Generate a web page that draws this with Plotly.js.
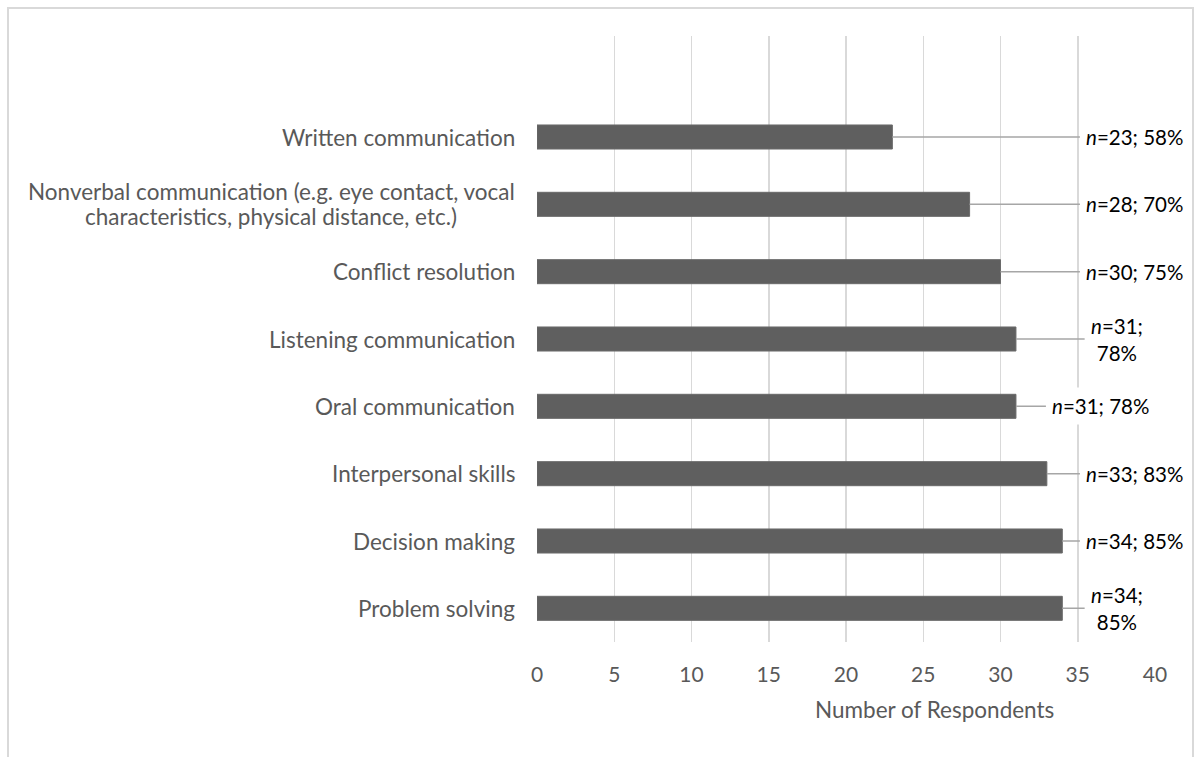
<!DOCTYPE html>
<html>
<head>
<meta charset="utf-8">
<script src="https://cdn.plot.ly/plotly-3.0.1.min.js"></script>
<style>
  html, body { margin: 0; padding: 0; background: #ffffff; }
  #frame { position: absolute; left: 7px; top: 7px; width: 1187px; height: 800px;
           border: 2px solid #d9d9d9; box-sizing: border-box; }
  #chart { position: absolute; left: 0; top: 0; width: 1199px; height: 757px; }
</style>
</head>
<body>
<div id="frame"></div>
<div id="chart"></div>
<script>
// ---- data (bottom to top) ----
const categories = [
  "Problem solving",
  "Decision making",
  "Interpersonal skills",
  "Oral communication",
  "Listening communication",
  "Conflict resolution",
  "Nonverbal communication (e.g. eye contact, vocal<br>characteristics, physical distance, etc.)",
  "Written communication"
];
const respondents = [34, 34, 33, 31, 31, 30, 28, 23];
const percents = [85, 85, 83, 78, 78, 75, 70, 58];
const xTicks = [0, 5, 10, 15, 20, 25, 30, 35, 40];

// ---- label placement (style, not data) ----
// [label centre x in axis units, wrap onto two lines?]
const labelPlace = [
  [37.55, true],
  [38.7, false],
  [38.7, false],
  [36.5, false],
  [37.55, true],
  [38.7, false],
  [38.7, false],
  [38.7, false]
];

const FONT = "Lato, 'Open Sans', sans-serif";
const GREY = "#595959";
const CAT_SIZE = 22.5;
const LINE_GAP = 25;
const CAT_PAD = 22;

const ctx = document.createElement("canvas").getContext("2d");
ctx.font = CAT_SIZE + "px Lato";
function textW(s) { return ctx.measureText(s).width; }

const catKeys = categories.map((c, i) => "c" + i);
const allKeys = catKeys.concat(["pad"]);

const trace = {
  type: "bar",
  orientation: "h",
  x: respondents,
  y: catKeys,
  marker: { color: "#5f5f5f", line: { color: "#6a6a6a", width: 1 } },
  hoverinfo: "skip"
};

const annotations = [];
categories.forEach((c, i) => {
  const lines = c.split("<br>");
  const blockW = Math.max.apply(null, lines.map(textW));
  lines.forEach((ln, k) => {
    annotations.push({
      xref: "paper", yref: "y", x: 0, y: catKeys[i],
      xanchor: "center", yanchor: "middle",
      xshift: -CAT_PAD - blockW / 2,
      yshift: ((lines.length - 1) / 2 - k) * LINE_GAP,
      text: ln, showarrow: false, align: "center",
      font: { family: FONT, size: CAT_SIZE, color: GREY }
    });
  });
  const p = labelPlace[i];
  const txt = "<i>n</i>=" + respondents[i] + ";" + (p[1] ? "<br>" : " ") + percents[i] + "%";
  annotations.push({
    xref: "x", yref: "y", x: respondents[i], y: catKeys[i],
    axref: "x", ayref: "y", ax: p[0], ay: catKeys[i],
    text: txt, showarrow: true, arrowhead: 0, arrowwidth: 1.5,
    arrowcolor: "#a6a6a6", standoff: 0, startstandoff: 0,
    bgcolor: "#ffffff", borderpad: 6, align: "center",
    font: { family: FONT, size: 20.5, color: "#000000" }
  });
});
annotations.push({
  xref: "paper", yref: "paper", x: 0.644, y: -0.112,
  xanchor: "center", yanchor: "middle", showarrow: false,
  text: "Number of Respondents",
  font: { family: FONT, size: 22.5, color: GREY }
});

const layout = {
  width: 1199, height: 757,
  margin: { l: 537, r: 44, t: 36, b: 115 },
  paper_bgcolor: "rgba(0,0,0,0)",
  plot_bgcolor: "rgba(0,0,0,0)",
  showlegend: false,
  bargap: 0.643,
  xaxis: {
    range: [0, 40], tickvals: xTicks, ticktext: xTicks.map(String),
    showgrid: true, gridcolor: "#d9d9d9", gridwidth: 1.5,
    zeroline: false, showline: false,
    ticks: "outside", ticklen: 14, tickcolor: "rgba(0,0,0,0)",
    tickfont: { family: FONT, size: 21, color: GREY },
    fixedrange: true
  },
  yaxis: {
    type: "category", categoryorder: "array", categoryarray: allKeys,
    range: [-0.5, 8.5], showticklabels: false, showgrid: false,
    zeroline: false, showline: false, ticks: "", fixedrange: true
  },
  annotations: annotations
};

Plotly.newPlot("chart", [trace], layout, { displayModeBar: false, staticPlot: true });
</script>
</body>
</html>
